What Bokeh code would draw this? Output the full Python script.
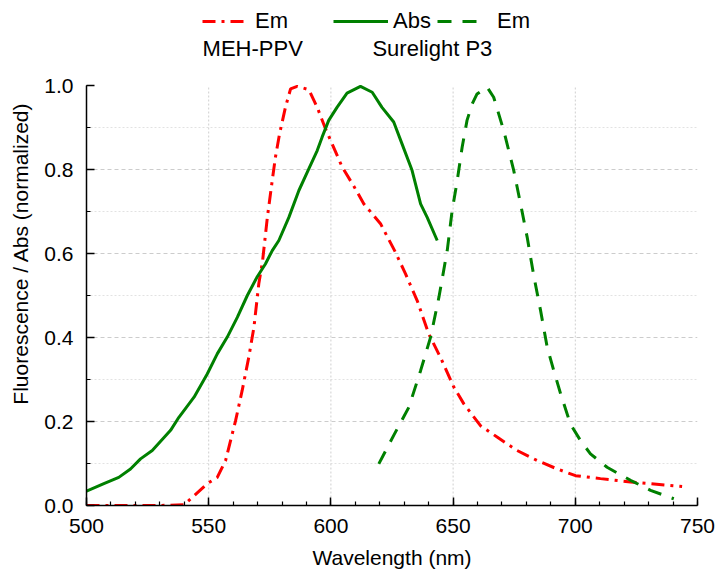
from bokeh.plotting import figure
from bokeh.models import (Range1d, SingleIntervalTicker, FixedTicker, NumeralTickFormatter,
                          Legend, LegendItem, Label)
from bokeh.embed import file_html
from bokeh.resources import INLINE

# MEH-PPV emission (red dash-dot)
meh_em_x = [500, 510, 520, 530, 540, 549.4, 553.5, 556.9, 561, 563.7, 566.4, 568.5, 570.5, 572,
            574, 576, 577.3, 579, 581.4, 583.5, 586.2, 591, 594.4, 597.8, 600.5, 604.6, 609.4,
            613.5, 620.3, 626.4, 630.5, 635.3, 640, 644.8, 650.3, 654.4, 661.2, 668, 676.2,
            684.4, 692.6, 700.1, 710.3, 722.6, 730.8, 743.7]
meh_em_y = [0, 0, 0, 0, 0.002, 0.052, 0.067, 0.107, 0.202, 0.274, 0.353, 0.424, 0.528, 0.58,
            0.686, 0.774, 0.829, 0.885, 0.948, 0.992, 0.998, 0.99, 0.948, 0.897, 0.861, 0.806,
            0.76, 0.718, 0.671, 0.603, 0.552, 0.488, 0.409, 0.353, 0.282, 0.242, 0.19, 0.163,
            0.131, 0.107, 0.087, 0.071, 0.064, 0.056, 0.052, 0.045]

# Surelight P3 absorption (green solid)
p3_abs_x = [500, 507.1, 513.2, 518, 522.1, 526.9, 534.4, 537.8, 544, 549.4, 553.5, 557.6, 561.7,
            565.8, 569.8, 573.2, 576, 578.7, 582.8, 586.9, 591, 594.4, 596.4, 599.1, 602.5,
            606.6, 612.1, 616.9, 620.9, 625.7, 629.1, 633.2, 636.7, 639.4, 643.5]
p3_abs_y = [0.034, 0.052, 0.067, 0.087, 0.111, 0.131, 0.179, 0.21, 0.258, 0.313, 0.361, 0.401,
            0.448, 0.5, 0.544, 0.575, 0.607, 0.631, 0.686, 0.75, 0.802, 0.845, 0.877, 0.917,
            0.948, 0.982, 0.998, 0.984, 0.948, 0.913, 0.861, 0.798, 0.718, 0.686, 0.631]

# Surelight P3 emission (green dashed)
p3_em_x = [619.6, 625.7, 631.9, 636.7, 640.8, 644.2, 647.6, 649.6, 651.7, 653.7, 655.7, 657.8,
           659.8, 663.9, 666.6, 670.7, 674.8, 677.6, 680.3, 683.1, 685.8, 688.5, 691.2, 694,
           698, 702.1, 706.2, 713, 722.6, 730.8, 740.3]
p3_em_y = [0.099, 0.167, 0.234, 0.321, 0.401, 0.496, 0.607, 0.702, 0.774, 0.853, 0.917, 0.956,
           0.98, 0.996, 0.972, 0.893, 0.798, 0.718, 0.639, 0.544, 0.464, 0.377, 0.321, 0.266,
           0.194, 0.155, 0.123, 0.091, 0.06, 0.036, 0.016]

x_major_grid = [550, 600, 650, 700]
y_major_grid = [0.2, 0.4, 0.6, 0.8]
y_minor_grid = [0.1, 0.3, 0.5, 0.7, 0.9]
y_axis_bounds = (0, 1)

FONT = "Liberation Sans"

# the frame extends above y=1 so the legend block sits inside it
p = figure(width=717, height=571, output_backend="svg", toolbar_location=None,
           x_range=Range1d(500, 750), y_range=Range1d(0, 1.2),
           min_border_left=86, min_border_right=20, min_border_top=1, min_border_bottom=66)
p.outline_line_color = None
p.background_fill_color = "white"
p.border_fill_color = "white"

# vertical grid lines limited to the data area
p.segment(x0=x_major_grid, y0=[y_axis_bounds[0]] * len(x_major_grid),
          x1=x_major_grid, y1=[y_axis_bounds[1]] * len(x_major_grid),
          line_color="#cfcfcf", line_dash="2 2", line_width=1)

r_red = p.line(meh_em_x, meh_em_y, line_color="#ff0000", line_width=3, line_dash="13 6 3 6")
r_abs = p.line(p3_abs_x, p3_abs_y, line_color="#008000", line_width=3)
r_em = p.line(p3_em_x, p3_em_y, line_color="#008000", line_width=3, line_dash="14 11")

# axes
p.xaxis.ticker = SingleIntervalTicker(interval=50, num_minor_ticks=5)
p.yaxis.ticker = SingleIntervalTicker(interval=0.2, num_minor_ticks=2)
p.yaxis.bounds = y_axis_bounds
p.yaxis.formatter = NumeralTickFormatter(format="0.0")
p.xaxis.axis_label = "Wavelength (nm)"
p.yaxis.axis_label = "Fluorescence / Abs (normalized)"
for ax in (p.xaxis, p.yaxis):
    ax.axis_line_color = "black"
    ax.axis_line_width = 1.5
    ax.major_tick_line_color = "black"
    ax.major_tick_line_width = 1.5
    ax.minor_tick_line_color = "black"
    ax.minor_tick_line_width = 1.2
    ax.major_tick_in = 8
    ax.major_tick_out = 0
    ax.minor_tick_in = 4
    ax.minor_tick_out = 0
    ax.major_label_text_font = FONT
    ax.major_label_text_font_size = "21px"
    ax.major_label_text_color = "black"
    ax.axis_label_text_font = FONT
    ax.axis_label_text_font_size = "21px"
    ax.axis_label_text_font_style = "normal"
    ax.axis_label_text_color = "black"
p.xaxis.major_label_standoff = 13
p.xaxis.axis_label_standoff = 10
p.yaxis.major_label_standoff = 13
p.yaxis.axis_label_standoff = 9

# grids
p.xgrid.visible = False
p.ygrid.ticker = FixedTicker(ticks=y_major_grid, minor_ticks=y_minor_grid)
p.ygrid.grid_line_color = "#cccccc"
p.ygrid.grid_line_dash = "4 3"
p.ygrid.grid_line_width = 1
p.ygrid.minor_grid_line_color = "#e2e2e2"
p.ygrid.minor_grid_line_dash = "2 2"
p.ygrid.minor_grid_line_width = 1

# legends (three single-item legends in the block above the data)
def make_legend(label, renderer, vx, gw, standoff):
    leg = Legend(items=[LegendItem(label=label, renderers=[renderer])],
                 location=(vx, 469), orientation="horizontal",
                 glyph_width=gw, glyph_height=30, label_height=30, label_standoff=standoff,
                 padding=0, margin=0, border_line_color=None, background_fill_alpha=0,
                 label_text_font=FONT, label_text_font_size="22px", label_text_color="black")
    p.add_layout(leg, "center")

make_legend("Em", r_red, 116, 43, 10)
make_legend("Abs", r_abs, 247, 55, 5)
make_legend("Em", r_em, 351, 45, 15)

group_labels = ["MEH-PPV", "Surelight P3"]
group_x = [547.5, 617.0]
for t, gx in zip(group_labels, group_x):
    p.add_layout(Label(x=gx, y=1.087, text=t, text_font=FONT, text_font_size="22px",
                       text_baseline="alphabetic", text_align="left", text_color="black"))

open("out.html", "w").write(file_html(p, INLINE))
